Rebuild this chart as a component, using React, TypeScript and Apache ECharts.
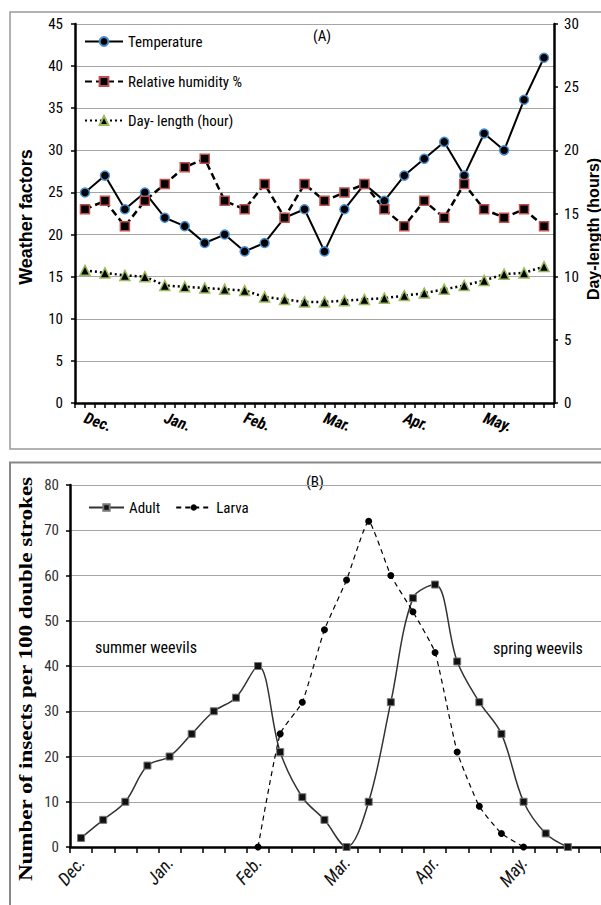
import React, { useEffect, useRef } from 'react';
import * as echarts from 'echarts';

// ---------- data ----------
const monthLabels = ['Dec.', 'Jan.', 'Feb.', 'Mar.', 'Apr.', 'May.'];
const weeksPerMonth = 4;

// Panel A (weekly readings, Dec. - May.)
const temperature = [25, 27, 23, 25, 22, 21, 19, 20, 18, 19, 22, 23, 18, 23, 26, 24, 27, 29, 31, 27, 32, 30, 36, 41];
const humidity = [23, 24, 21, 24, 26, 28, 29, 24, 23, 26, 22, 26, 24, 25, 26, 23, 21, 24, 22, 26, 23, 22, 23, 21];
const dayLength = [10.5, 10.3, 10.1, 10.0, 9.3, 9.2, 9.1, 9.0, 8.9, 8.4, 8.2, 8.0, 8.0, 8.1, 8.2, 8.3, 8.5, 8.7, 9.0, 9.3, 9.7, 10.2, 10.3, 10.8];

// Panel B (insects per 100 double strokes)
const adult = [2, 6, 10, 18, 20, 25, 30, 33, 40, 21, 11, 6, 0, 10, 32, 55, 58, 41, 32, 25, 10, 3, 0, null];
const larva = [null, null, null, null, null, null, null, null, 0, 25, 32, 48, 59, 72, 60, 52, 43, 21, 9, 3, 0, null, null, null];

// axis ranges
const weatherAxis = { min: 0, max: 45, interval: 5 };
const dayAxis = { min: 0, max: 30, interval: 5 };
const insectAxis = { min: 0, max: 80, interval: 10 };

const NARROW = "'Liberation Sans Narrow', 'Arial Narrow', 'Roboto Condensed', sans-serif";
const ARIAL = "'Liberation Sans', Arial, sans-serif";
const SERIF = "'Liberation Serif', 'Times New Roman', serif";

const weekCats: string[] = [];
monthLabels.forEach((m) => {
  for (let i = 0; i < weeksPerMonth; i++) weekCats.push(i === 0 ? m : '');
});
const halfWeekCats: string[] = [];
for (let i = 0; i < weekCats.length * 2; i++) halfWeekCats.push('');

export default function App() {
  const ref = useRef<HTMLDivElement>(null);

  useEffect(() => {
    if (!ref.current) return;
    const chart = echarts.init(ref.current, undefined, { renderer: 'svg' });

    const valueLabel = (color: string, margin: number) => ({
      fontFamily: NARROW,
      fontSize: 15,
      color,
      margin,
    });
    const legendText = { fontFamily: NARROW, fontSize: 15, color: '#000' };

    const option: any = {
      animation: false,
      backgroundColor: '#fff',
      grid: [
        { left: 75, top: 24, width: 479, height: 379 },
        { left: 70, top: 485, width: 560, height: 362 },
      ],
      legend: [
        { data: ['Temperature'], left: 84, top: 34, padding: 0, itemWidth: 38, itemHeight: 11, textStyle: legendText },
        { data: ['Relative humidity %'], left: 84, top: 74, padding: 0, itemWidth: 38, itemHeight: 11, textStyle: legendText },
        { data: ['Day- length (hour)'], left: 84, top: 113, padding: 0, itemWidth: 38, itemHeight: 11, textStyle: legendText },
        {
          data: ['Adult', 'Larva'],
          left: 88, top: 500, padding: 0, itemWidth: 35, itemHeight: 8, itemGap: 15,
          textStyle: legendText,
        },
      ],
      xAxis: [
        {
          gridIndex: 0,
          type: 'category',
          data: weekCats,
          position: 'bottom',
          boundaryGap: true,
          axisLine: { lineStyle: { color: '#000', width: 2.5 } },
          axisTick: { show: false },
          axisLabel: {
            interval: 0, rotate: -20, margin: 14,
            fontFamily: NARROW, fontSize: 16, fontStyle: 'italic', fontWeight: 'bold', color: '#000',
          },
          splitLine: { show: false },
        },
        {
          gridIndex: 0,
          type: 'category',
          data: halfWeekCats,
          position: 'bottom',
          boundaryGap: true,
          axisLine: { show: false },
          axisTick: { show: true, interval: 0, length: 5, lineStyle: { color: '#000', width: 1.5 } },
          axisLabel: { show: false },
          splitLine: { show: false },
        },
        {
          gridIndex: 1,
          type: 'category',
          data: weekCats,
          position: 'bottom',
          boundaryGap: true,
          axisLine: { lineStyle: { color: '#000', width: 2.5 } },
          axisTick: { show: true, interval: 0, length: 6, lineStyle: { color: '#000', width: 1.5 } },
          axisLabel: {
            interval: 0, rotate: 50, margin: 12,
            fontFamily: NARROW, fontSize: 18, fontStyle: 'italic', fontWeight: 'normal', color: '#111',
          },
          splitLine: { show: false },
        },
      ],
      yAxis: [
        {
          gridIndex: 0, type: 'value', position: 'left',
          ...weatherAxis,
          axisLine: { show: true, lineStyle: { color: '#000', width: 2.5 } },
          axisTick: { show: true, length: 4, lineStyle: { color: '#000', width: 1.5 } },
          axisLabel: valueLabel('#000', 12),
          splitLine: { show: true, lineStyle: { color: '#a6a6a6', width: 1 } },
        },
        {
          gridIndex: 0, type: 'value', position: 'right',
          ...dayAxis,
          axisLine: { show: true, lineStyle: { color: '#000', width: 2.5 } },
          axisTick: { show: true, length: 4, lineStyle: { color: '#000', width: 1.5 } },
          axisLabel: valueLabel('#000', 10),
          splitLine: { show: false },
        },
        {
          gridIndex: 1, type: 'value', position: 'left',
          ...insectAxis,
          axisLine: { show: true, lineStyle: { color: '#000', width: 2.5 } },
          axisTick: { show: true, length: 4, lineStyle: { color: '#000', width: 1.5 } },
          axisLabel: valueLabel('#333', 11),
          splitLine: { show: true, lineStyle: { color: '#a6a6a6', width: 1 } },
        },
      ],
      series: [
        {
          name: 'Temperature', type: 'line', xAxisIndex: 0, yAxisIndex: 0,
          data: temperature,
          symbol: 'circle', symbolSize: 9,
          lineStyle: { color: '#000', width: 2 },
          itemStyle: { color: '#000', borderColor: '#4a8fd4', borderWidth: 1.5 },
          emphasis: { disabled: true },
        },
        {
          name: 'Relative humidity %', type: 'line', xAxisIndex: 0, yAxisIndex: 0,
          data: humidity,
          symbol: 'rect', symbolSize: 9,
          lineStyle: { color: '#000', width: 2.5, type: [7, 4] },
          itemStyle: { color: '#000', borderColor: '#c0504d', borderWidth: 1.5 },
          emphasis: { disabled: true },
        },
        {
          name: 'Day- length (hour)', type: 'line', xAxisIndex: 0, yAxisIndex: 1,
          data: dayLength,
          symbol: 'triangle', symbolSize: 10,
          lineStyle: { color: '#000', width: 2.5, type: [2, 3] },
          itemStyle: { color: '#000', borderColor: '#9bbb59', borderWidth: 1.5 },
          emphasis: { disabled: true },
        },
        {
          name: 'Adult', type: 'line', xAxisIndex: 2, yAxisIndex: 2,
          data: adult, smooth: 0.35,
          symbol: 'rect', symbolSize: 7,
          lineStyle: { color: '#333', width: 1.5 },
          itemStyle: { color: '#111', borderColor: '#777', borderWidth: 1 },
          emphasis: { disabled: true },
        },
        {
          name: 'Larva', type: 'line', xAxisIndex: 2, yAxisIndex: 2,
          data: larva, smooth: 0.15,
          symbol: 'circle', symbolSize: 7,
          lineStyle: { color: '#000', width: 1.2, type: [5, 4] },
          itemStyle: { color: '#000' },
          emphasis: { disabled: true },
        },
      ],
      graphic: [
        { type: 'rect', shape: { x: 10, y: 12, width: 640, height: 437 }, style: { fill: 'none', stroke: '#999', lineWidth: 1.5 }, silent: true },
        { type: 'rect', shape: { x: 10, y: 462.5, width: 640, height: 520 }, style: { fill: 'none', stroke: '#888', lineWidth: 2 }, silent: true },
        {
          type: 'text', x: 26, y: 217, rotation: Math.PI / 2,
          style: { text: 'Weather factors', font: `bold 18px ${ARIAL}`, fill: '#000', textAlign: 'center', textVerticalAlign: 'middle', align: 'center', verticalAlign: 'middle' },
        },
        {
          type: 'text', x: 593, y: 229, rotation: Math.PI / 2,
          style: { text: 'Day-length (hours)', font: `bold 16px ${ARIAL}`, fill: '#000', textAlign: 'center', textVerticalAlign: 'middle', align: 'center', verticalAlign: 'middle' },
        },
        {
          type: 'text', x: 322, y: 36,
          style: { text: '(A)', font: `15px ${NARROW}`, fill: '#000', textAlign: 'center', textVerticalAlign: 'middle', align: 'center', verticalAlign: 'middle' },
        },
        {
          type: 'text', x: 315, y: 482,
          style: { text: '(B)', font: `15px ${NARROW}`, fill: '#000', textAlign: 'center', textVerticalAlign: 'middle', align: 'center', verticalAlign: 'middle' },
        },
        {
          type: 'text', x: 26, y: 679, rotation: Math.PI / 2, scaleX: 1.28,
          style: { text: 'Number of insects per 100 double strokes', font: `bold 18px ${SERIF}`, fill: '#000', textAlign: 'center', textVerticalAlign: 'middle', align: 'center', verticalAlign: 'middle' },
        },
        {
          type: 'text', x: 95, y: 647,
          style: { text: 'summer weevils', font: `16px ${NARROW}`, fill: '#000', textAlign: 'left', textVerticalAlign: 'middle', align: 'left', verticalAlign: 'middle' },
        },
        {
          type: 'text', x: 493, y: 648,
          style: { text: 'spring weevils', font: `16px ${NARROW}`, fill: '#000', textAlign: 'left', textVerticalAlign: 'middle', align: 'left', verticalAlign: 'middle' },
        },
      ],
    };

    chart.setOption(option);
    return () => chart.dispose();
  }, []);

  return (
    <div
      ref={ref}
      style={{ position: 'absolute', left: 0, top: 0, width: 601, height: 905, background: '#fff' }}
    />
  );
}
